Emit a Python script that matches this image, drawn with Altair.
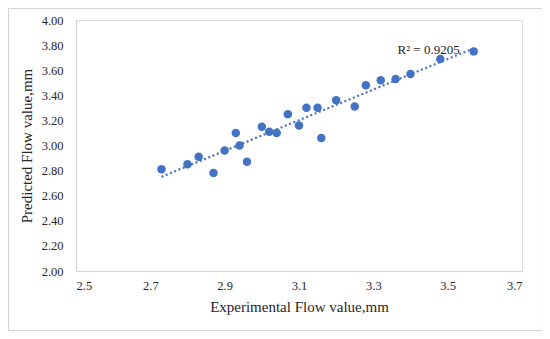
import altair as alt
import pandas as pd

experimental = [2.73, 2.80, 2.83, 2.87, 2.90, 2.93, 2.94, 2.96, 3.00, 3.02, 3.04, 3.07,
                3.10, 3.12, 3.15, 3.16, 3.20, 3.25, 3.28, 3.32, 3.36, 3.40, 3.48, 3.57]
predicted = [2.81, 2.85, 2.91, 2.78, 2.96, 3.10, 3.00, 2.87, 3.15, 3.11, 3.10, 3.25,
             3.16, 3.30, 3.30, 3.06, 3.36, 3.31, 3.48, 3.52, 3.53, 3.57, 3.69, 3.75]

x_ticks = [2.5, 2.7, 2.9, 3.1, 3.3, 3.5, 3.7]
y_ticks = [2.0, 2.2, 2.4, 2.6, 2.8, 3.0, 3.2, 3.4, 3.6, 3.8, 4.0]

r2_label = ["R² = 0.9205"]
r2_x = [3.365]
r2_y = [3.76]

df = pd.DataFrame({"exp": experimental, "pred": predicted})
lab = pd.DataFrame({"t": r2_label, "x": r2_x, "y": r2_y})

FONT = "Liberation Serif"
BLUE = "#4472C4"
GRAY = "#d4d4d4"

xs = alt.Scale(domain=[2.5, 3.7], nice=False, zero=False)
ys = alt.Scale(domain=[2.0, 4.0], nice=False, zero=False)

xaxis = alt.Axis(values=x_ticks, format=".1f", ticks=False, grid=False, labelOverlap=False,
                 domainColor=GRAY, domainWidth=1.2, labelFont=FONT, labelFontSize=12.5,
                 labelColor="#262626", labelPadding=8, title="Experimental Flow value,mm",
                 titleFont=FONT, titleFontSize=15, titleFontWeight="normal",
                 titleColor="#262626", titlePadding=8)
yaxis = alt.Axis(values=y_ticks, format=".2f", ticks=False, grid=False, labelOverlap=False,
                 domainColor=GRAY, domainWidth=1.2, labelFont=FONT, labelFontSize=12.5,
                 labelColor="#262626", labelPadding=13, title="Predicted Flow value,mm",
                 titleFont=FONT, titleFontSize=15, titleFontWeight="normal",
                 titleColor="#262626", titlePadding=7)

border = alt.Chart(lab).mark_rect(fill=None, stroke=GRAY, strokeWidth=1.2).encode(
    x=alt.value(-67.5), x2=alt.value(466.5), y=alt.value(-11.5), y2=alt.value(310.5)
)

points = alt.Chart(df).mark_circle(size=72, opacity=1, color=BLUE).encode(
    x=alt.X("exp:Q", scale=xs, axis=xaxis),
    y=alt.Y("pred:Q", scale=ys, axis=yaxis),
)

trend = alt.Chart(df).transform_regression("exp", "pred").mark_line(
    color=BLUE, strokeWidth=2.2, strokeDash=[2, 2.6]
).encode(x=alt.X("exp:Q", scale=xs, axis=xaxis), y=alt.Y("pred:Q", scale=ys, axis=yaxis))

text = alt.Chart(lab).mark_text(font=FONT, fontSize=13, align="left",
                                baseline="middle", color="#262626").encode(
    x=alt.X("x:Q", scale=xs, axis=xaxis), y=alt.Y("y:Q", scale=ys, axis=yaxis), text="t:N"
)

chart = alt.layer(border, points, trend, text).properties(
    width=446, height=251,
    autosize=alt.AutoSizeParams(type="none"),
    padding={"left": 68, "top": 12, "right": 20, "bottom": 60},
).configure_view(stroke=None).configure(background="white")

chart.save("out.html", embed_options={"renderer": "svg", "actions": False})
